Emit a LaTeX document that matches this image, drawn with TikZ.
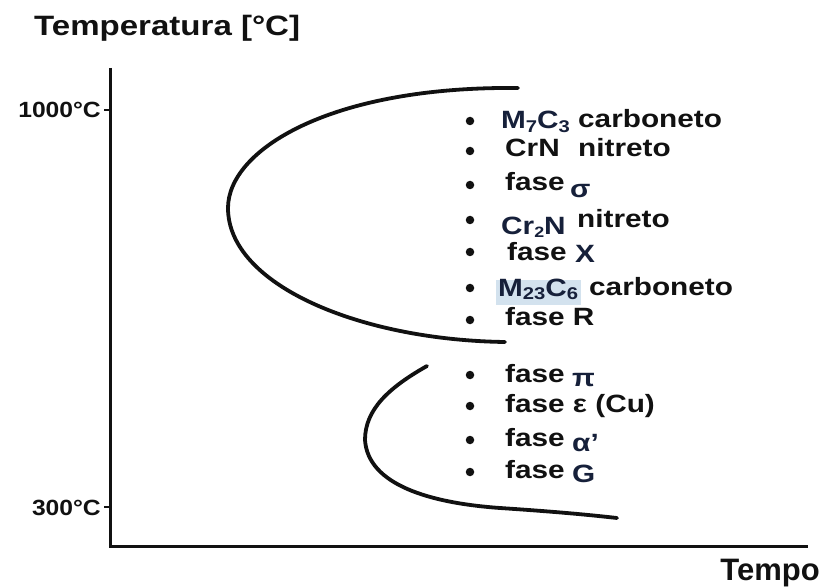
\documentclass[tikz,border=0pt]{standalone}
\usepackage{fontspec}
\setmainfont{Liberation Sans}
\newfontfamily\labfont{Liberation Sans}[FakeStretch=1.19]
\newfontfamily\headfont{Liberation Sans}[FakeStretch=1.18]
\newfontfamily\tickfont{Liberation Sans}[FakeStretch=1.12]
% lowered chemical indices
\newcommand\lowidx[1]{\raisebox{-4pt}{\fontsize{17pt}{17pt}\selectfont #1}}
\newcommand\smallidx[1]{\raisebox{-3pt}{\fontsize{15pt}{15pt}\selectfont #1}}
\definecolor{ink}{HTML}{111111}
\definecolor{navy}{HTML}{16203A}
\definecolor{hilite}{HTML}{D3E2EE}
\tikzset{
  axisline/.style={line width=3pt, ink},
  tickline/.style={line width=2pt, ink},
  tcurve/.style={line width=3.8pt, ink, line cap=round},
  dotmark/.style={circle, fill=ink, inner sep=0pt, minimum size=8.5pt},
  lbl/.style={anchor=base west, inner sep=0pt, text=ink,
    font=\labfont\bfseries\fontsize{25pt}{25pt}\selectfont},
  axlbl/.style={anchor=base east, inner sep=0pt, text=ink,
    font=\tickfont\bfseries\fontsize{22pt}{22pt}\selectfont},
  head/.style={anchor=base west, inner sep=0pt, text=ink,
    font=\headfont\bfseries\fontsize{28pt}{28pt}\selectfont},
  foot/.style={anchor=base east, inner sep=0pt, text=ink,
    font=\bfseries\fontsize{31pt}{31pt}\selectfont}
}
\begin{document}
\begin{tikzpicture}[x={(1pt,0)}, y={(0,-1pt)}]
\useasboundingbox[fill=white] (0,0) rectangle (825,588);

% axes
\coordinate (ytop) at (110,68);
\coordinate (orig) at (110,546);
\coordinate (xend) at (808,546);
\draw[axisline] (ytop) -- (orig) -- (xend);

% temperature ticks
\coordinate (t1000) at (110,110);
\coordinate (t1000e) at (104,110);
\coordinate (t300) at (110,507);
\coordinate (t300e) at (104,507);
\draw[tickline] (t1000) -- (t1000e);
\draw[tickline] (t300) -- (t300e);
\node[axlbl] (l1000) at (101,118) {1000°C};
\node[axlbl] (l300) at (101,515) {300°C};

% axis titles
\node[head] (ttemp) at (34,36) {Temperatura [°C]};
\node[foot] (ttempo) at (820,580) {Tempo};

% upper precipitation curve
\draw[tcurve] (518,88) .. controls (330,86) and (228,150) .. (228,208)
  .. controls (228,285) and (360,340) .. (505,342);
% lower precipitation curve
\draw[tcurve] (427,366) .. controls (388,388) and (365,410) .. (365,440)
  .. controls (368,485) and (430,503) .. (500,508)
  .. controls (560,512) and (590,515) .. (617,518);

% bullets
\foreach \n/\yy in {b1/121, b2/151, b3/185, b4/220, b5/252, b6/288, b7/320,
                    b8/375, b9/406, b10/440, b11/472}
  \node[dotmark] (\n) at (470,\yy) {};

% highlight behind M23C6
\fill[hilite] (496,280) rectangle (581,305);

% phase labels
\node[lbl, text=navy] (p1a) at (501,129) {M\lowidx{7}C\lowidx{3}};
\node[lbl] (p1b) at (578,128) {carboneto};
\node[lbl] (p2a) at (505,157) {CrN};
\node[lbl] (p2b) at (578,157) {nitreto};
\node[lbl] (p3a) at (505,191) {fase};
\node[lbl, text=navy] (p3b) at (570,198) {σ};
\node[lbl, text=navy] (p4a) at (501,235) {Cr\smallidx{2}N};
\node[lbl] (p4b) at (577,228) {nitreto};
\node[lbl] (p5a) at (507,261) {fase};
\node[lbl, text=navy] (p5b) at (575,262) {Χ};
\node[lbl, text=navy] (p6a) at (498,296) {M\lowidx{23}C\lowidx{6}};
\node[lbl] (p6b) at (589,295) {carboneto};
\node[lbl] (p7) at (505,325) {fase R};
\node[lbl] (p8a) at (505,382) {fase};
\node[lbl, text=navy] (p8b) at (572,386) {π};
\node[lbl] (p9) at (505,412) {fase ε (Cu)};
\node[lbl] (p10a) at (505,446) {fase};
\node[lbl, text=navy] (p10b) at (572,451) {α’};
\node[lbl] (p11a) at (505,478) {fase};
\node[lbl, text=navy] (p11b) at (572,482) {G};
\end{tikzpicture}
\end{document}
